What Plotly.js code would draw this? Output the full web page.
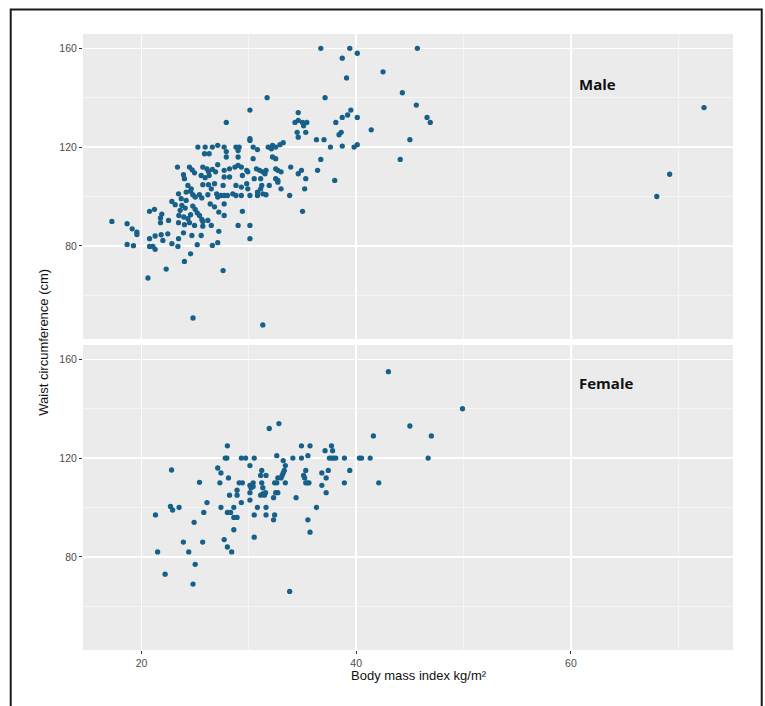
<!DOCTYPE html>
<html>
<head>
<meta charset="utf-8">
<script src="https://cdn.plot.ly/plotly-3.0.1.min.js"></script>
<style>html,body{margin:0;padding:0;background:#fff;}#chart{width:765px;height:706px;}</style>
</head>
<body>
<div id="chart"></div>
<script>
// ---- Data ----
const maleBMI = [
  25.25,25.93,25.87,23.35,24.47,24.72,24.94,23.91,24.0,25.71,26.09,26.24,25.56,25.93,
  24.32,24.63,25.71,26.24,24.16,24.57,24.78,25.0,25.4,25.62,26.18,23.45,23.7,24.16,
  22.83,23.14,23.76,24.07,23.6,23.48,24.78,25.0,25.19,25.4,25.62,23.94,23.45,24.32,
  24.57,24.47,24.94,25.71,26.18,22.52,21.77,21.21,20.75,21.89,21.77,24.0,25.71,
  17.24,18.66,19.13,19.57,19.57,18.66,19.25,20.75,21.27,20.75,21.06,21.27,21.83,22.45,
  21.99,22.83,23.45,23.91,23.39,24.69,25.19,25.56,24.57,24.0,20.6,22.3,24.8,
  26.6,27.1,27.7,28.8,29.1,30.1,30.1,27.9,29.0,30.4,30.8,31.8,32.1,32.5,33.2,32.2,32.9,
  34.6,36.3,37.0,37.6,26.3,27.9,29.0,30.4,32.2,32.5,36.7,26.3,26.6,26.9,27.7,28.2,28.7,
  29.0,29.3,27.7,28.2,27.1,29.4,29.8,29.9,30.7,31.0,31.3,30.5,31.1,29.8,29.9,28.8,29.3,
  27.6,26.8,26.5,27.0,27.1,27.4,27.7,28.0,28.5,28.8,29.3,30.1,30.8,31.3,31.6,30.8,31.1,
  31.6,31.5,32.5,32.7,33.0,32.5,32.7,32.7,33.0,31.9,33.9,34.6,34.9,35.3,35.2,33.8,36.4,
  38.0,27.7,27.2,27.7,26.5,29.4,29.0,30.1,30.1,27.2,27.1,26.6,35.0,26.4,26.8,27.6,31.3,
  31.2,27.9,30.1,31.7,34.6,34.6,34.3,35.0,35.4,35.1,34.5,35.3,36.7,37.1,38.1,38.4,38.6,
  38.7,38.7,39.1,38.7,39.4,39.2,39.5,39.8,40.1,40.1,40.1,41.4,42.5,44.1,44.3,45.7,45.6,
  46.6,46.9,45.0,72.4,69.2,68.0
];
const maleWaist = [
  120,120,117.3,111.9,111.9,110.8,109.6,108.8,107.2,111.9,111.2,110.1,108.5,107.6,
  104.5,103.1,104.8,104.8,101.8,102.1,100.7,99.8,100.7,99.4,100.7,101.1,99.1,98.4,
  98.0,96.7,96.4,95.3,94.4,92.3,96.1,94.8,93.4,92.3,90.7,91.7,89.4,91.0,
  92.6,89.4,88.3,89.9,90.3,90.3,89.4,94.8,94.0,92.9,91.3,88.6,88.0,
  89.9,89.0,86.9,85.6,84.6,80.6,80.1,82.9,84.0,79.8,79.8,78.6,84.5,84.9,
  82.2,80.9,82.9,85.3,79.8,84.2,80.5,84.2,76.8,73.7,67,70.6,50.8,
  120,120.7,120,120,120,122.7,123.4,118.2,118.6,120,119,120,119.3,120,121.8,120.7,121,
  124,123,123,120,117.3,116,116,115.3,116,115.3,115,108.5,111,110,110.6,111.2,111.9,
  112.6,111.9,107.9,107.9,112.9,108.5,110.6,110,111.2,110.6,110,107.2,107.2,105.2,103.1,104.5,103.8,
  104.5,105.2,103.1,101.1,99.8,100.4,100.4,100.4,101.1,100.4,100.4,100.4,100.4,101.1,100.7,101.8,103.1,
  110.6,109.2,111.2,110.6,110,107.2,106.5,105.8,103.1,104.5,111.9,109.2,110.6,107.2,103.1,100.4,110.6,
  106.5,97,93.7,92.3,88.3,94,88.3,88.3,82.9,85.9,81.3,80.2,94,97,95.8,70,48,
  104.5,130,135,140,134,130.8,130,130,130,128.6,126,126,160,140,130,125,126,
  132,120.4,148,156,160,133,135,120,121,132,158,127,150.5,115,142,160,137,
  132,130,123,136,109,100
];

const femaleBMI = [
  21.3,21.5,22.2,22.8,22.7,22.9,23.5,23.9,24.4,24.8,24.9,25.0,25.4,25.7,25.8,26.1,
  27.1,27.4,27.3,27.4,27.7,27.8,27.95,28.0,28.1,28.0,28.3,28.0,28.4,28.2,28.6,28.6,28.9,
  28.6,28.9,28.9,29.1,29.4,29.3,29.3,29.7,30.1,30.1,30.2,30.4,30.4,30.1,30.1,30.5,30.5,30.5,
  31.1,31.2,31.2,31.3,31.1,31.3,31.45,31.55,30.8,31.6,31.6,31.6,31.9,32.4,32.3,32.3,32.4,32.6,
  32.6,32.5,32.7,32.8,32.7,33.0,33.1,33.2,33.3,33.4,33.2,33.4,34.1,33.8,34.4,34.9,34.9,
  35.1,35.2,35.3,35.45,35.6,35.3,35.5,35.5,35.7,35.7,36.3,36.8,36.8,37.1,37.2,37.2,37.4,
  37.7,37.8,37.5,37.7,37.9,38.1,38.9,38.9,39.4,40.3,40.5,41.3,41.6,42.1,43.0,45.0,47.0,46.7,49.9
];
const femaleWaist = [
  97,82,73,115.2,100.4,99,100,86,82,69,94,77,110.2,86,98,102,
  116,114,110,100,87,120,120,125,112,98,98,84,82,105,100,96,96,
  91,105,107,110,110,102,120,120,117,109,108,110,108.5,106,103,120,97,88,
  113,115,110,108,105,105.5,105,106,100,100,97,113,132,97,95,104,110,110,
  121,106,106,134,112,112,113,114,115,117,119,110,120,66,104,125,120,
  113,112,110,110,110,115,121,95,90,125,100,109,114,123,112,106,115,
  125,123,120,120,120,120,120,110,115,120,120,120,129,110,155,133,129,120,140
];

const xTicks = [20, 40, 60];
const xMinor = [30, 50, 70];
const yTicks = [80, 120, 160];
const yMinor = [60, 100, 140];
const panelLabels = ['Male', 'Female'];
const xTitle = 'Body mass index kg/m²';
const yTitle = 'Waist circumference (cm)';

// ---- Styling ----
const pointColor = '#16608a';
const tickFont = {family: '"Liberation Sans", Arial, sans-serif', size: 10.5, color: '#4d4d4d'};
const titleFont = {family: '"Liberation Sans", Arial, sans-serif', size: 13, color: '#111'};
const labelFont = {family: '"Open Sans", "Noto Sans", sans-serif', size: 15, color: '#111', weight: 700};

const traces = [
  {x: maleBMI, y: maleWaist, xaxis: 'x2', yaxis: 'y2', type: 'scatter', mode: 'markers',
   marker: {color: pointColor, size: 5.3}, hoverinfo: 'skip', showlegend: false},
  {x: femaleBMI, y: femaleWaist, xaxis: 'x', yaxis: 'y', type: 'scatter', mode: 'markers',
   marker: {color: pointColor, size: 5.3}, hoverinfo: 'skip', showlegend: false}
];

const yBase = {
  range: [42.3, 165.8], tickmode: 'array', tickvals: yTicks, ticktext: yTicks.map(String),
  showgrid: true, gridcolor: '#ffffff', gridwidth: 1.5, zeroline: false, showline: false,
  ticks: 'outside', ticklen: 3, tickwidth: 1, tickcolor: '#333', tickfont: tickFont,
  minor: {tickmode: 'array', tickvals: yMinor, showgrid: true, gridcolor: '#fafafa', gridwidth: 0.7, ticks: ''}
};
const xBase = {
  range: [14.55, 75.1], tickmode: 'array', tickvals: xTicks, ticktext: xTicks.map(String),
  showgrid: true, gridcolor: '#ffffff', gridwidth: 1.5, zeroline: false, showline: false,
  tickwidth: 1, tickcolor: '#333', tickfont: tickFont,
  minor: {tickmode: 'array', tickvals: xMinor, showgrid: true, gridcolor: '#fafafa', gridwidth: 0.7, ticks: ''}
};

const layout = {
  width: 765, height: 706,
  margin: {l: 83, r: 32, t: 34, b: 56},
  paper_bgcolor: '#ffffff', plot_bgcolor: '#ebebeb',
  showlegend: false,
  xaxis: Object.assign({}, xBase, {anchor: 'y', ticks: 'outside', ticklen: 3}),
  yaxis: Object.assign({}, yBase, {domain: [0, 0.4951], anchor: 'x'}),
  xaxis2: Object.assign({}, xBase, {anchor: 'y2', matches: 'x', showticklabels: false, ticks: ''}),
  yaxis2: Object.assign({}, yBase, {domain: [0.5049, 1], anchor: 'x2'}),
  annotations: [
    {text: '<b>' + panelLabels[0] + '</b>', x: 60.6, y: 145.5, xref: 'x2', yref: 'y2',
     xanchor: 'left', yanchor: 'middle', showarrow: false, font: labelFont},
    {text: '<b>' + panelLabels[1] + '</b>', x: 60.6, y: 150.5, xref: 'x', yref: 'y',
     xanchor: 'left', yanchor: 'middle', showarrow: false, font: labelFont},
    {text: yTitle, x: -0.062, y: 0.5, xref: 'paper', yref: 'paper', textangle: -90,
     xanchor: 'center', yanchor: 'middle', showarrow: false, font: titleFont},
    {text: xTitle, x: 0.5165, y: -0.0422, xref: 'paper', yref: 'paper',
     xanchor: 'center', yanchor: 'middle', showarrow: false, font: titleFont}
  ],
  shapes: [
    {type: 'rect', xref: 'paper', yref: 'paper', x0: -0.1112, x1: 1.0442, y0: -0.3, y1: 1.0398,
     line: {color: '#1a1a1a', width: 2}, fillcolor: 'rgba(0,0,0,0)', layer: 'above'}
  ]
};

Plotly.newPlot('chart', traces, layout, {displayModeBar: false, staticPlot: true});
</script>
</body>
</html>
